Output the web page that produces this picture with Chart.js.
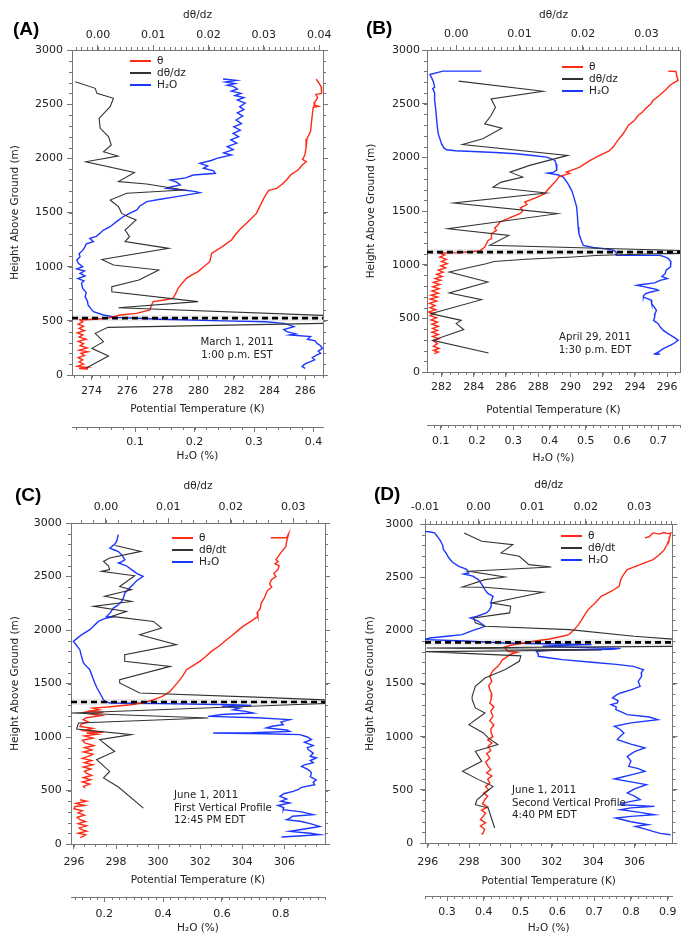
<!DOCTYPE html>
<html>
<head>
<meta charset="utf-8">
<title>Vertical profiles</title>
<script src="https://cdn.jsdelivr.net/npm/chart.js@4.4.1/dist/chart.umd.min.js"></script>
<style>
  body { margin: 0; background: #fff; width: 681px; height: 935px; position: relative; overflow: hidden;
         font-family: "DejaVu Sans", sans-serif; color: #222; }
  canvas { position: absolute; }
  .tag { position: absolute; font: bold 19px "Liberation Sans", Arial, sans-serif; line-height: 19px; color: #000; }
  .note { position: absolute; font-size: 10.2px; line-height: 12.7px; white-space: nowrap; }
  .note.center { text-align: center; transform: translateX(-50%); }
  .legend { position: absolute; font-size: 10.5px; line-height: 12px; white-space: nowrap; }
  .legend div { height: 12px; position: relative; padding-left: 27px; }
  .legend i { position: absolute; left: 0; top: 6px; width: 21px; height: 2px; }
</style>
</head>
<body>

<canvas id="chartA" width="340" height="470" style="left:0;top:0"></canvas>
<canvas id="chartB" width="341" height="470" style="left:340px;top:0"></canvas>
<canvas id="chartC" width="340" height="465" style="left:0;top:470px"></canvas>
<canvas id="chartD" width="341" height="465" style="left:340px;top:470px"></canvas>

<div class="tag" style="left:13px;top:19px">(A)</div>
<div class="tag" style="left:366px;top:18px">(B)</div>
<div class="tag" style="left:15px;top:485px">(C)</div>
<div class="tag" style="left:374px;top:484px">(D)</div>

<div class="legend" id="legA" style="left:130px;top:54px"></div>
<div class="legend" id="legB" style="left:562px;top:60px"></div>
<div class="legend" id="legC" style="left:172px;top:531px"></div>
<div class="legend" id="legD" style="left:561px;top:529px"></div>

<div class="note center" style="left:237px;top:336px">March 1, 2011<br>1:00 p.m. EST</div>
<div class="note center" style="left:595px;top:331px">April 29, 2011<br>1:30 p.m. EDT</div>
<div class="note" style="left:174px;top:789px">June 1, 2011<br>First Vertical Profile<br>12:45 PM EDT</div>
<div class="note" style="left:512px;top:784px">June 1, 2011<br>Second Vertical Profile<br>4:40 PM EDT</div>

<script>
// ---- shared ticks ----
const heightTicks = [0, 500, 1000, 1500, 2000, 2500, 3000];

// ---- (A) March 1, 2011 : [height m, value] ----
const aTheta = [[2732,286.62],[2700,286.75],[2660,286.9],[2600,286.92],[2590,286.6],[2560,286.7],[2520,286.55],[2492,286.5],[2480,286.75],[2470,286.45],[2400,286.4],[2330,286.35],[2250,286.3],[2180,286.1],[2100,286.05],[2030,285.98],[1990,285.85],[1969,286.06],[1940,285.85],[1892,285.6],[1850,285.2],[1800,284.95],[1760,284.7],[1723,284.4],[1705,283.95],[1692,283.9],[1640,283.7],[1590,283.55],[1540,283.4],[1492,283.26],[1440,282.95],[1400,282.7],[1338,282.3],[1290,282.05],[1246,281.86],[1180,281.3],[1123,280.74],[1090,280.7],[1046,280.64],[1000,280.3],[954,279.98],[920,279.6],[892,279.33],[850,279.1],[800,278.86],[760,278.75],[708,278.58],[690,278.0],[677,277.46],[640,277.35],[600,277.27],[569,276.53],[554,275.6],[540,275.3],[523,274.85],[515,274.2],[508,273.35],[490,273.5],[470,273.25],[450,273.55],[430,273.3],[410,273.6],[390,273.2],[370,273.5],[350,273.3],[330,273.7],[310,273.25],[290,273.55],[270,273.35],[250,273.75],[230,273.3],[215,273.8],[200,273.4],[180,273.6],[160,273.25],[140,273.5],[120,273.3],[100,273.55],[80,273.2],[70,273.75],[60,273.3],[55,273.8]];
const aGrad = [[2707,-0.0041],[2646,-0.0005],[2600,-0.0002],[2554,0.0028],[2477,0.0022],[2369,0.0002],[2277,0.0004],[2200,0.0019],[2123,0.0024],[2061,0.0010],[2021,0.0036],[1969,-0.0022],[1869,0.0066],[1785,0.0037],[1763,0.0088],[1707,0.0155],[1677,0.0052],[1615,0.0022],[1554,0.0037],[1492,0.0043],[1461,0.0055],[1431,0.0069],[1338,0.0049],[1277,0.0057],[1231,0.0049],[1169,0.0128],[1067,0.0007],[1015,0.0028],[969,0.0110],[877,0.0074],[815,0.0025],[769,0.0025],[677,0.0181],[621,0.0037],[540,0.046],[482,0.046],[440,0.0018],[385,-0.0005],[308,0.0010],[246,-0.0011],[175,0.0019],[62,-0.0022]];
const aWater = [[2732,0.248],[2720,0.27],[2705,0.252],[2690,0.268],[2675,0.255],[2662,0.266],[2640,0.272],[2620,0.262],[2600,0.278],[2580,0.268],[2560,0.283],[2538,0.272],[2510,0.285],[2477,0.276],[2450,0.283],[2420,0.272],[2390,0.281],[2354,0.27],[2320,0.279],[2290,0.266],[2260,0.277],[2231,0.265],[2200,0.274],[2170,0.261],[2140,0.271],[2108,0.255],[2080,0.265],[2050,0.249],[2031,0.262],[2000,0.2375],[1980,0.228],[1954,0.209],[1930,0.222],[1908,0.215],[1885,0.232],[1862,0.235],[1846,0.198],[1820,0.185],[1800,0.159],[1780,0.17],[1754,0.176],[1735,0.16],[1723,0.153],[1708,0.181],[1695,0.2],[1683,0.209],[1665,0.19],[1646,0.17],[1620,0.14],[1600,0.12],[1560,0.108],[1523,0.103],[1490,0.09],[1461,0.08],[1420,0.07],[1369,0.058],[1338,0.047],[1308,0.041],[1280,0.035],[1262,0.024],[1230,0.03],[1210,0.018],[1185,0.016],[1150,0.012],[1120,0.006],[1092,0.0075],[1060,0.002],[1031,0.0046],[1000,0.012],[980,0.002],[960,0.015],[938,0.0075],[915,0.016],[890,0.004],[870,0.014],[846,0.010],[800,0.012],[760,0.018],[723,0.016],[680,0.02],[646,0.021],[610,0.026],[585,0.030],[554,0.047],[532,0.069],[514,0.142],[500,0.25],[492,0.32],[477,0.35],[460,0.36],[446,0.367],[420,0.35],[400,0.355],[380,0.37],[370,0.36],[354,0.395],[330,0.39],[315,0.403],[292,0.406],[270,0.412],[246,0.415],[220,0.408],[200,0.412],[185,0.406],[160,0.398],[140,0.402],[123,0.395],[100,0.385],[77,0.381],[62,0.386]];
const aInversion = 525;
const aThetaTicks = [274, 276, 278, 280, 282, 284, 286];
const aGradTicks = [0, 0.01, 0.02, 0.03, 0.04];
const aWaterTicks = [0.1, 0.2, 0.3, 0.4];

// ---- (B) April 29, 2011 ----
const bTheta = [[2803,296.06],[2800,296.55],[2760,296.6],[2716,296.68],[2690,296.35],[2669,296.17],[2620,295.85],[2580,295.55],[2530,295.13],[2500,295.0],[2460,294.7],[2420,294.45],[2390,294.2],[2340,293.95],[2300,293.6],[2260,293.45],[2220,293.27],[2160,292.95],[2095,292.65],[2060,292.4],[2018,291.82],[1970,291.2],[1909,290.58],[1880,290.1],[1862,289.75],[1850,289.95],[1820,289.3],[1785,289.13],[1740,288.85],[1700,288.6],[1661,288.41],[1620,287.8],[1583,287.16],[1560,287.3],[1530,286.9],[1500,287.05],[1475,286.86],[1440,286.3],[1397,285.62],[1370,285.5],[1340,285.3],[1319,285.41],[1290,285.1],[1242,285.1],[1226,284.89],[1164,284.68],[1127,284.37],[1112,283.0],[1108,281.9],[1090,282.2],[1070,281.9],[1050,282.3],[1030,282.0],[1009,282.35],[990,281.95],[970,282.25],[950,281.8],[930,282.1],[910,281.7],[890,282.05],[870,281.6],[854,281.95],[835,281.5],[815,281.9],[795,281.45],[775,281.85],[755,281.4],[735,281.8],[715,281.35],[698,281.75],[680,281.3],[660,281.7],[640,281.25],[620,281.6],[600,281.3],[580,281.65],[560,281.2],[544,281.55],[525,281.3],[505,281.7],[485,281.35],[465,281.75],[445,281.4],[425,281.8],[405,281.45],[388,281.75],[370,281.4],[350,281.8],[330,281.45],[310,281.85],[290,281.5],[264,281.75],[240,281.5],[220,281.85],[200,281.5],[185,281.8],[171,281.55]];
const bGrad = [[2710,0.0004],[2616,0.0137],[2545,0.0055],[2467,0.0062],[2390,0.0055],[2312,0.0045],[2272,0.0072],[2173,0.0042],[2120,0.0010],[2018,0.0176],[1925,0.0116],[1862,0.0085],[1816,0.0105],[1769,0.0071],[1722,0.0058],[1667,0.0142],[1574,-0.0004],[1475,0.0160],[1335,-0.0013],[1273,0.0083],[1180,0.0053],[1125,0.040],[1110,0.040],[1100,0.030],[1085,0.022],[1071,0.0184],[1050,0.011],[1030,0.006],[1009,0.0047],[931,-0.0011],[838,0.0050],[736,-0.0011],[674,0.0040],[544,-0.0040],[481,0.0008],[451,0.0],[395,0.0012],[295,-0.0037],[177,0.0051]];
const bWater = [[2803,0.212],[2803,0.106],[2772,0.07],[2740,0.075],[2700,0.08],[2654,0.083],[2640,0.078],[2600,0.083],[2530,0.083],[2450,0.086],[2374,0.088],[2300,0.09],[2220,0.093],[2127,0.102],[2090,0.108],[2071,0.116],[2062,0.14],[2055,0.189],[2045,0.25],[2033,0.309],[2015,0.36],[2002,0.392],[1985,0.405],[1971,0.415],[1940,0.418],[1909,0.42],[1880,0.42],[1860,0.41],[1853,0.395],[1835,0.425],[1816,0.438],[1760,0.45],[1692,0.461],[1620,0.468],[1536,0.475],[1450,0.477],[1350,0.479],[1290,0.481],[1242,0.486],[1180,0.493],[1160,0.52],[1149,0.548],[1135,0.575],[1127,0.58],[1110,0.585],[1095,0.583],[1088,0.585],[1087,0.65],[1087,0.705],[1070,0.72],[1056,0.728],[1030,0.735],[1009,0.733],[980,0.735],[950,0.722],[916,0.719],[890,0.71],[870,0.725],[854,0.705],[830,0.69],[815,0.655],[807,0.641],[795,0.66],[780,0.68],[770,0.695],[761,0.70],[745,0.68],[730,0.665],[712,0.66],[698,0.659],[670,0.68],[637,0.682],[600,0.69],[575,0.695],[544,0.691],[510,0.69],[481,0.687],[450,0.70],[420,0.705],[388,0.714],[350,0.73],[320,0.745],[295,0.755],[270,0.745],[249,0.733],[220,0.715],[186,0.70],[171,0.691],[168,0.705],[165,0.69]];
const bInversion = 1117;
const bThetaTicks = [282, 284, 286, 288, 290, 292, 294, 296];
const bGradTicks = [0, 0.01, 0.02, 0.03];
const bWaterTicks = [0.1, 0.2, 0.3, 0.4, 0.5, 0.6, 0.7];

// ---- (C) June 1, 2011, first profile ----
const cTheta = [[2862,305.35],[2862,306.1],[2900,306.2],[2860,306.15],[2820,306.1],[2781,306.07],[2740,305.9],[2700,305.75],[2657,305.6],[2640,305.7],[2620,305.55],[2600,305.75],[2564,305.69],[2530,305.5],[2500,305.6],[2470,305.38],[2430,305.3],[2400,305.4],[2370,305.2],[2346,305.14],[2300,305.05],[2252,304.9],[2200,304.85],[2160,304.7],[2127,304.74],[2080,304.4],[2034,304.03],[1980,303.7],[1940,303.45],[1909,303.25],[1850,302.9],[1800,302.53],[1750,302.25],[1707,301.98],[1660,301.6],[1629,301.35],[1580,301.2],[1536,301.04],[1480,300.8],[1426,300.57],[1380,300.2],[1349,299.8],[1320,299.3],[1302,298.7],[1280,297.6],[1270,296.9],[1255,297.2],[1240,296.7],[1230,297.4],[1215,296.8],[1200,297.3],[1180,296.6],[1162,296.44],[1140,296.7],[1120,296.35],[1099,296.29],[1080,296.9],[1060,296.45],[1045,297.4],[1037,296.6],[1025,297.1],[1010,296.5],[990,296.9],[970,296.4],[944,296.52],[920,296.95],[900,296.5],[880,296.85],[860,296.45],[840,296.9],[819,296.68],[800,296.4],[780,296.85],[760,296.5],[740,296.9],[720,296.45],[700,296.8],[680,296.5],[663,296.6],[640,296.85],[620,296.45],[600,296.8],[580,296.4],[560,296.75],[540,296.45],[523,296.52],[470,null],[414,296.29],[400,296.6],[380,296.1],[360,296.5],[351,296.05],[330,296.0],[310,296.4],[290,296.2],[270,296.5],[250,296.15],[227,296.29],[210,296.55],[190,296.2],[170,296.6],[150,296.25],[134,296.37],[120,296.6],[100,296.2],[85,296.55],[71,296.44],[60,296.3]];
const cGrad = [[2790,0.0015],[2735,0.0056],[2673,0.0006],[2641,-0.0004],[2600,0.0004],[2564,0.0006],[2548,-0.0007],[2507,0.0046],[2407,0.0022],[2377,0.0041],[2315,-0.0002],[2267,0.0041],[2221,-0.0020],[2174,0.0033],[2127,0.0009],[2080,0.0076],[2018,0.0089],[1956,0.0054],[1863,0.0113],[1769,0.0030],[1707,0.0030],[1660,0.0103],[1536,0.0022],[1505,0.0022],[1411,0.0054],[1370,0.025],[1340,0.038],[1320,0.038],[1224,-0.0055],[1178,0.0164],[1131,-0.0044],[1075,-0.0047],[1022,0.0041],[975,-0.0010],[865,0.0014],[788,-0.0015],[678,0.0006],[617,-0.0004],[533,0.0020],[336,0.0060]];
const cWater = [[2891,0.2475],[2860,0.245],[2828,0.242],[2800,0.235],[2766,0.219],[2750,0.232],[2735,0.247],[2700,0.26],[2657,0.27],[2640,0.26],[2626,0.248],[2600,0.275],[2564,0.293],[2530,0.31],[2501,0.332],[2460,0.31],[2424,0.298],[2390,0.285],[2346,0.27],[2300,0.265],[2267,0.259],[2230,0.245],[2205,0.231],[2160,0.22],[2127,0.208],[2120,0.225],[2110,0.205],[2080,0.18],[2040,0.165],[2003,0.151],[1950,0.12],[1893,0.095],[1860,0.105],[1816,0.117],[1760,0.122],[1692,0.129],[1660,0.14],[1629,0.151],[1560,0.16],[1505,0.168],[1460,0.175],[1411,0.185],[1349,0.197],[1330,0.205],[1318,0.219],[1312,0.4],[1302,0.637],[1295,0.70],[1286,0.60],[1270,0.66],[1255,0.638],[1240,0.68],[1224,0.706],[1210,0.60],[1193,0.553],[1180,0.72],[1162,0.83],[1140,0.80],[1115,0.808],[1100,0.77],[1084,0.751],[1065,0.82],[1052,0.83],[1040,0.70],[1037,0.57],[1030,0.75],[1022,0.865],[1000,0.89],[975,0.904],[950,0.88],[920,0.91],[900,0.89],[882,0.893],[850,0.91],[820,0.90],[804,0.921],[780,0.90],[760,0.91],[740,0.88],[725,0.87],[700,0.89],[680,0.90],[663,0.904],[630,0.90],[600,0.92],[575,0.91],[554,0.915],[530,0.87],[510,0.86],[492,0.842],[470,0.81],[445,0.797],[420,0.82],[400,0.80],[383,0.83],[360,0.79],[340,0.81],[321,0.808],[300,0.87],[274,0.91],[260,0.84],[240,0.83],[227,0.819],[210,0.87],[190,0.90],[164,0.932],[140,0.88],[118,0.83],[100,0.90],[87,0.932],[75,0.86],[65,0.802]];
const cInversion = 1327;
const cThetaTicks = [296, 298, 300, 302, 304, 306];
const cGradTicks = [0, 0.01, 0.02, 0.03];
const cWaterTicks = [0.2, 0.4, 0.6, 0.8];

// ---- (D) June 1, 2011, second profile ----
const dTheta = [[2869,306.5],[2880,306.7],[2916,306.89],[2905,307.2],[2920,307.4],[2910,307.6],[2916,307.75],[2880,307.7],[2853,307.67],[2800,307.55],[2759,307.44],[2710,307.2],[2665,306.89],[2620,306.3],[2572,305.64],[2520,305.45],[2477,305.33],[2414,305.25],[2370,304.9],[2320,304.39],[2260,304.1],[2195,303.76],[2150,303.6],[2101,303.45],[2054,303.29],[2000,303.05],[1960,302.82],[1940,302.4],[1919,301.88],[1900,301.2],[1881,300.64],[1860,300.0],[1843,299.7],[1820,299.8],[1803,299.86],[1793,300.32],[1775,300.0],[1755,299.86],[1720,299.6],[1690,299.5],[1661,299.39],[1620,299.15],[1567,299.0],[1520,299.1],[1480,298.95],[1442,299.0],[1400,299.1],[1349,299.07],[1317,299.0],[1280,299.2],[1240,299.05],[1191,299.15],[1150,299.0],[1110,299.2],[1070,299.05],[1035,299.07],[1000,299.15],[970,298.9],[940,299.1],[909,298.92],[870,299.05],[840,298.85],[800,299.0],[760,298.8],[721,298.92],[690,299.05],[660,298.85],[630,299.1],[600,298.9],[564,299.0],[530,298.8],[500,298.95],[470,298.7],[440,298.9],[407,298.76],[370,298.65],[340,298.9],[310,298.6],[280,298.8],[250,298.68],[220,298.55],[190,298.8],[160,298.55],[130,298.75],[94,298.68],[80,298.6]];
const dGrad = [[2916,-0.0027],[2837,0.0006],[2806,0.0064],[2728,0.0042],[2696,0.0076],[2618,0.0094],[2596,0.0136],[2555,-0.0018],[2502,0.0049],[2477,0.0012],[2408,-0.0030],[2405,0.0012],[2358,0.0120],[2258,0.0024],[2226,0.0060],[2164,0.0058],[2117,-0.0009],[2070,-0.0006],[2038,0.0012],[2007,0.0170],[1944,0.0290],[1913,0.0375],[1850,0.0375],[1834,-0.0097],[1815,0.0230],[1800,-0.0098],[1760,0.0079],[1709,0.0076],[1630,0.0049],[1552,0.0012],[1473,-0.0006],[1379,-0.0012],[1349,-0.0012],[1270,-0.0006],[1223,0.0012],[1113,-0.0018],[1035,0.0009],[988,0.0018],[925,0.0036],[862,-0.0006],[768,0.0006],[674,-0.0030],[596,0.0],[533,0.0027],[470,0.0012],[407,-0.0003],[360,-0.0006],[329,0.0018],[141,0.0030]];
const dWater = [[2931,0.24],[2925,0.255],[2916,0.266],[2890,0.272],[2853,0.28],[2800,0.288],[2760,0.29],[2728,0.297],[2680,0.305],[2640,0.315],[2602,0.332],[2585,0.345],[2572,0.354],[2540,0.359],[2530,0.345],[2510,0.37],[2477,0.385],[2430,0.395],[2383,0.403],[2350,0.41],[2320,0.425],[2270,0.42],[2226,0.42],[2190,0.415],[2164,0.407],[2130,0.38],[2117,0.363],[2100,0.375],[2085,0.385],[2060,0.395],[2038,0.403],[2020,0.39],[2007,0.376],[1985,0.36],[1960,0.341],[1945,0.30],[1928,0.253],[1913,0.24],[1900,0.35],[1881,0.456],[1872,0.60],[1866,0.693],[1860,0.62],[1850,0.56],[1840,0.65],[1830,0.772],[1822,0.75],[1815,0.60],[1803,0.543],[1780,0.548],[1756,0.548],[1740,0.58],[1725,0.614],[1700,0.693],[1680,0.76],[1661,0.807],[1640,0.825],[1630,0.834],[1600,0.828],[1567,0.829],[1520,0.82],[1473,0.825],[1440,0.80],[1411,0.772],[1390,0.76],[1364,0.75],[1340,0.765],[1317,0.763],[1301,0.746],[1280,0.76],[1254,0.759],[1230,0.775],[1207,0.79],[1185,0.85],[1160,0.873],[1130,0.80],[1097,0.755],[1070,0.77],[1035,0.781],[1000,0.77],[972,0.763],[930,0.80],[894,0.838],[860,0.81],[815,0.79],[770,0.80],[721,0.794],[700,0.82],[674,0.838],[640,0.80],[602,0.755],[575,0.80],[549,0.842],[510,0.81],[470,0.79],[440,0.81],[407,0.825],[385,0.79],[360,0.772],[344,0.864],[330,0.80],[313,0.772],[290,0.82],[266,0.864],[250,0.80],[235,0.759],[200,0.80],[172,0.847],[156,0.812],[130,0.84],[109,0.86],[90,0.88],[78,0.908]];
const dInversion = 1887;
const dThetaTicks = [296, 298, 300, 302, 304, 306];
const dGradTicks = [-0.01, 0, 0.01, 0.02, 0.03];
const dWaterTicks = [0.3, 0.4, 0.5, 0.6, 0.7, 0.8, 0.9];

// ---- styling ----
const RED = '#ff2a14';
const BLUE = '#1c37ff';
const BLACK = '#333333';
const AXIS = '#777777';
const TEXT = '#222222';

Chart.defaults.font.family = '"DejaVu Sans", sans-serif';
Chart.defaults.font.size = 11;
Chart.defaults.color = TEXT;

// short unlabeled ticks between the major ones, one step per scale id
function minorTicks(steps) {
  return {
    id: 'minorTicks',
    afterDraw(chart) {
      const ctx = chart.ctx;
      ctx.save();
      ctx.strokeStyle = AXIS;
      ctx.lineWidth = 1;
      Object.keys(steps).forEach(id => {
        const s = chart.scales[id];
        const step = steps[id];
        for (let n = Math.ceil(s.min / step - 1e-6); n * step <= s.max + 1e-9; n++) {
          const p = Math.round(s.getPixelForValue(n * step)) + 0.5;
          ctx.beginPath();
          if (s.position === 'bottom') { ctx.moveTo(p, s.top); ctx.lineTo(p, s.top + 3); }
          else if (s.position === 'top') { ctx.moveTo(p, s.bottom); ctx.lineTo(p, s.bottom - 3); }
          else if (s.position === 'left') { ctx.moveTo(s.right, p); ctx.lineTo(s.right - 3, p); }
          else { ctx.moveTo(s.left, p); ctx.lineTo(s.left + 3, p); }
          ctx.stroke();
        }
      });
      ctx.restore();
    }
  };
}

const toXY = pairs => pairs.map(([z, v]) => ({ x: v, y: z }));

function profile(data, color, width, axis) {
  return {
    data: toXY(data), xAxisID: axis, yAxisID: 'y', showLine: true,
    borderColor: color, borderWidth: width, pointRadius: 0, tension: 0, spanGaps: false
  };
}

function xAxis(pos, weight, range, ticks, digits, title, size, tickPad, titlePad) {
  return {
    type: 'linear', position: pos, weight, min: range[0], max: range[1], bounds: 'data',
    afterBuildTicks: s => { s.ticks = ticks.map(v => ({ value: v })); },
    afterFit: s => { s.height = size; },
    grid: { drawOnChartArea: false, tickLength: 5, tickColor: AXIS, color: AXIS },
    border: { color: AXIS, width: 1 },
    ticks: { autoSkip: false, maxRotation: 0, padding: tickPad, color: TEXT, callback: v => v.toFixed(digits) },
    title: { display: true, text: title, color: TEXT, font: { size: 10.5 }, padding: titlePad }
  };
}

function yAxis(pos, width, opts) {
  return Object.assign({
    type: 'linear', position: pos, min: 0, max: 3000, bounds: 'data',
    afterBuildTicks: s => { s.ticks = heightTicks.map(v => ({ value: v })); },
    afterFit: s => { s.width = width; },
    grid: { drawOnChartArea: false, tickLength: 5, tickColor: AXIS, color: AXIS },
    border: { color: AXIS, width: 1 }
  }, opts);
}

function buildPanel(p) {
  const inversion = [[p.inversion, p.theta[0]], [p.inversion, p.theta[1]]];
  new Chart(document.getElementById(p.id), {
    type: 'scatter',
    data: {
      datasets: [
        Object.assign(profile(inversion, '#000', 2.6, 'theta'), { borderDash: [6, 4] }),
        profile(inversion, 'rgba(0,0,0,0.08)', 6, 'theta'),
        profile(p.grad, BLACK, 1.1, 'grad'),
        profile(p.thetaData, RED, 1.4, 'theta'),
        profile(p.water, BLUE, 1.4, 'water')
      ]
    },
    options: {
      responsive: false, animation: false, devicePixelRatio: 1,
      layout: { padding: { left: 0, top: 0, right: p.padR, bottom: 0 } },
      plugins: { legend: { display: false }, tooltip: { enabled: false } },
      scales: {
        y: yAxis('left', p.yW, {
          ticks: { padding: p.yTickPad, color: TEXT, callback: v => String(v) },
          title: { display: true, text: 'Height Above Ground (m)', color: TEXT, font: { size: 10.5 }, padding: { top: p.yTitlePad } }
        }),
        yR: yAxis('right', p.rW, { ticks: { display: false } }),
        grad: xAxis('top', 0, p.gradRange, p.gradTicks, 2, 'd\u03b8/dz', p.topH, p.top[0], { top: p.top[1] }),
        theta: xAxis('bottom', 0, p.theta, p.thetaTicks, 0, 'Potential Temperature (K)', p.thetaH, p.bot[0], { bottom: p.bot[1] }),
        water: xAxis('bottom', 1, p.waterRange, p.waterTicks, 1, 'H\u2082O (%)', p.waterH, p.wat[0], { bottom: p.wat[1] })
      }
    },
    plugins: [minorTicks({ grad: p.gradMinor, theta: 0.5, water: p.waterMinor, y: 100, yR: 100 })]
  });
}

function buildLegend(id, gradLabel) {
  const rows = [[RED, '\u03b8'], [BLACK, gradLabel], [BLUE, 'H\u2082O']];
  document.getElementById(id).innerHTML = rows
    .map(([c, t]) => `<div><i style="background:${c}"></i>${t}</div>`).join('');
}

buildPanel({
  id: 'chartA', thetaData: aTheta, grad: aGrad, water: aWater, inversion: aInversion,
  theta: [272.9, 287.0], gradRange: [-0.0047, 0.0407], waterRange: [-0.006, 0.416],
  thetaTicks: aThetaTicks, gradTicks: aGradTicks, waterTicks: aWaterTicks,
  gradMinor: 0.001, waterMinor: 0.02,
  yW: 72, rW: 5, padR: 12, topH: 50, thetaH: 52, waterH: 43,
  yTickPad: 4, yTitlePad: 8.7, top: [3.4, 8.7], bot: [4.1, 11.7], wat: [3.1, 7]
});
buildPanel({
  id: 'chartB', thetaData: bTheta, grad: bGrad, water: bWater, inversion: bInversion,
  theta: [281.1, 296.8], gradRange: [-0.0046, 0.0353], waterRange: [0.062, 0.76],
  thetaTicks: bThetaTicks, gradTicks: bGradTicks, waterTicks: bWaterTicks,
  gradMinor: 0.001, waterMinor: 0.02,
  yW: 87, rW: 1, padR: 0, topH: 50, thetaH: 53, waterH: 45,
  yTickPad: 2, yTitlePad: 25.4, top: [4.4, 8.7], bot: [3.1, 8.7], wat: [4.4, 5.7]
});
buildPanel({
  id: 'chartC', thetaData: cTheta, grad: cGrad, water: cWater, inversion: cInversion,
  theta: [295.86, 307.93], gradRange: [-0.0056, 0.0351], waterRange: [0.087, 0.95],
  thetaTicks: cThetaTicks, gradTicks: cGradTicks, waterTicks: cWaterTicks,
  gradMinor: 0.002, waterMinor: 0.025,
  yW: 71, rW: 5, padR: 10, topH: 53, thetaH: 53, waterH: 38,
  yTickPad: 4.3, yTitlePad: 8.7, top: [4.7, 10.4], bot: [7.0, 10.4], wat: [5.4, 0.7]
});
buildPanel({
  id: 'chartD', thetaData: dTheta, grad: dGrad, water: dWater, inversion: dInversion,
  theta: [295.87, 307.83], gradRange: [-0.01, 0.0362], waterRange: [0.24, 0.913],
  thetaTicks: dThetaTicks, gradTicks: dGradTicks, waterTicks: dWaterTicks,
  gradMinor: 0.001, waterMinor: 0.02,
  yW: 85, rW: 1, padR: 0, topH: 54, thetaH: 53, waterH: 39,
  yTickPad: 6.7, yTitlePad: 23.7, top: [5.7, 8.7], bot: [7.1, 8.7], wat: [4.4, 0]
});

buildLegend('legA', 'd\u03b8/dz');
buildLegend('legB', 'd\u03b8/dz');
buildLegend('legC', 'd\u03b8/dt');
buildLegend('legD', 'd\u03b8/dt');
</script>
</body>
</html>
